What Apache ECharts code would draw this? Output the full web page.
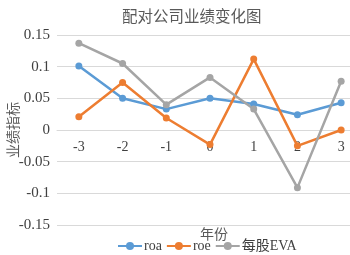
<!DOCTYPE html>
<html>
<head>
<meta charset="utf-8">
<script src="https://cdn.jsdelivr.net/npm/echarts@6/dist/echarts.min.js"></script>
<style>
  html, body { margin: 0; padding: 0; background: #fff; }
  #chart { width: 350px; height: 255px; }
</style>
</head>
<body>
<div id="chart"></div>
<script>
// 数据
var years = ['-3', '-2', '-1', '0', '1', '2', '3'];
var roa = [0.101, 0.050, 0.033, 0.050, 0.041, 0.024, 0.043];
var roe = [0.021, 0.075, 0.019, -0.023, 0.112, -0.025, 0.0];
var eva = [0.137, 0.105, 0.040, 0.083, 0.033, -0.091, 0.077];
var seriesNames = ['roa', 'roe', '每股EVA'];
var colors = ['#5B9BD5', '#ED7D31', '#A5A5A5'];

var serif = '"Liberation Serif", "Noto Sans CJK SC", serif';
var cjk = '"Noto Sans CJK SC", sans-serif';

function makeSeries(name, data, color) {
  return {
    name: name,
    type: 'line',
    data: data,
    symbol: 'circle',
    symbolSize: 7,
    itemStyle: { color: color },
    lineStyle: { color: color, width: 2.5 }
  };
}

var chart = echarts.init(document.getElementById('chart'));
chart.setOption({
  animation: false,
  color: colors,
  title: [
    {
      text: '配对公司业绩变化图',
      left: 117,
      top: 3,
      textStyle: { fontFamily: cjk, fontSize: 15.5, fontWeight: 'normal', color: '#595959' }
    },
    {
      text: '年份',
      left: 195,
      top: 222,
      textStyle: { fontFamily: cjk, fontSize: 14, fontWeight: 'normal', color: '#595959' }
    }
  ],
  legend: {
    data: seriesNames,
    left: 112,
    top: 234,
    itemWidth: 24,
    itemHeight: 10,
    itemGap: 4,
    textStyle: { fontFamily: serif, fontSize: 14, color: '#404040', padding: [0, 0, 0, -3] }
  },
  grid: { left: 57, top: 35, width: 306, height: 190, containLabel: false, outerBoundsMode: 'none' },
  xAxis: {
    type: 'category',
    data: years,
    boundaryGap: true,
    offset: -95, // 横轴放在 0 的位置
    axisLine: { show: true, onZero: false, lineStyle: { color: '#d9d9d9' } },
    axisTick: { show: false },
    axisLabel: { fontFamily: serif, fontSize: 14, color: '#404040', margin: 10 }
  },
  yAxis: {
    type: 'value',
    min: -0.15,
    max: 0.15,
    interval: 0.05,
    name: '业绩指标',
    nameLocation: 'middle',
    nameGap: 37,
    nameRotate: 90,
    nameMoveOverlap: false,
    nameTextStyle: { fontFamily: cjk, fontSize: 14, color: '#595959' },
    axisLine: { show: false },
    axisTick: { show: false },
    axisLabel: { fontFamily: serif, fontSize: 15, color: '#404040', margin: 7 },
    splitLine: { lineStyle: { color: '#d9d9d9', width: 1 } }
  },
  series: [
    makeSeries(seriesNames[0], roa, colors[0]),
    makeSeries(seriesNames[1], roe, colors[1]),
    makeSeries(seriesNames[2], eva, colors[2])
  ]
});
</script>
</body>
</html>
